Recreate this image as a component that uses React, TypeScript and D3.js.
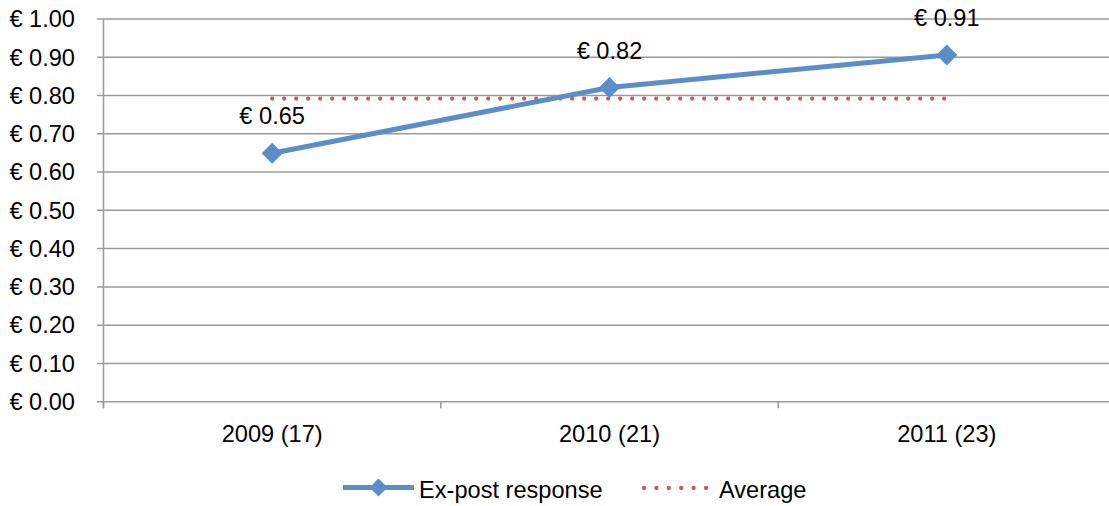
import React from "react";
import * as d3 from "d3";

const categories = ["2009 (17)", "2010 (21)", "2011 (23)"];
const expost = [0.649, 0.821, 0.906];
const labels = ["€ 0.65", "€ 0.82", "€ 0.91"];
const yTicks = [0, 0.1, 0.2, 0.3, 0.4, 0.5, 0.6, 0.7, 0.8, 0.9, 1.0];

const W = 1109;
const H = 506;
const FONT = "'Liberation Sans', Arial, sans-serif";
const FS = 23.6;
const GRID = "#9a9a9a";
const BLUE = "#5b8dc8";
const RED = "#cc5850";

export default function App() {
  const x = d3.scaleBand<string>().domain(categories).range([103.5, 1115.5]);
  const y = d3.scaleLinear().domain([0, 1]).range([401.7, 19]);
  const cx = (c: string) => (x(c) as number) + x.bandwidth() / 2;
  const avg = d3.mean(expost) as number;
  const line = d3
    .line<number>()
    .x((_, i) => cx(categories[i]))
    .y((d) => y(d));
  const avgLine = d3
    .line<string>()
    .x((c) => cx(c))
    .y(() => y(avg));
  const diamond = (px: number, py: number, r: number) =>
    `M${px},${py - r}L${px + r},${py}L${px},${py + r}L${px - r},${py}Z`;
  const xEdges = [0, 1, 2, 3].map((i) => 103.5 + i * x.bandwidth());

  return (
    <svg
      width={W}
      height={H}
      style={{ position: "absolute", left: 0, top: 0, background: "#fff" }}
      fontFamily={FONT}
      fontSize={FS}
    >
      <rect width={W} height={H} fill="#fff" />
      {yTicks.map((t) => (
        <g key={t}>
          <line x1={97} x2={W} y1={y(t)} y2={y(t)} stroke={GRID} strokeWidth={1.5} />
          <text x={75} y={y(t)} dy="0.35em" textAnchor="end" fill="#000">
            {"€ " + t.toFixed(2)}
          </text>
        </g>
      ))}
      <line x1={103.5} x2={103.5} y1={y(1)} y2={y(0) + 6.5} stroke={GRID} strokeWidth={1.5} />
      {xEdges.map((e, i) => (
        <line key={i} x1={e} x2={e} y1={y(0)} y2={y(0) + 6.5} stroke={GRID} strokeWidth={1.5} />
      ))}
      {categories.map((c) => (
        <text key={c} x={cx(c)} y={441.5} textAnchor="middle" fill="#000">
          {c}
        </text>
      ))}
      <path
        d={avgLine(categories) as string}
        fill="none"
        stroke={RED}
        strokeWidth={4.3}
        strokeLinecap="round"
        strokeDasharray="0 12"
      />
      <path d={line(expost) as string} fill="none" stroke={BLUE} strokeWidth={5} strokeLinejoin="round" />
      {expost.map((v, i) => (
        <path key={i} d={diamond(cx(categories[i]), y(v), 10.5)} fill={BLUE} />
      ))}
      {expost.map((v, i) => (
        <text key={"l" + i} x={cx(categories[i])} y={y(v) - 29} textAnchor="middle" fill="#000">
          {labels[i]}
        </text>
      ))}
      {/* legend */}
      <line x1={343} x2={414} y1={487.5} y2={487.5} stroke={BLUE} strokeWidth={5} />
      <path d={diamond(378.5, 487.5, 9)} fill={BLUE} />
      <text x={419} y={498} fill="#000">Ex-post response</text>
      <line
        x1={644}
        x2={706}
        y1={488}
        y2={488}
        stroke={RED}
        strokeWidth={4.3}
        strokeLinecap="round"
        strokeDasharray="0 12.4"
      />
      <text x={719} y={498} fill="#000">Average</text>
    </svg>
  );
}
